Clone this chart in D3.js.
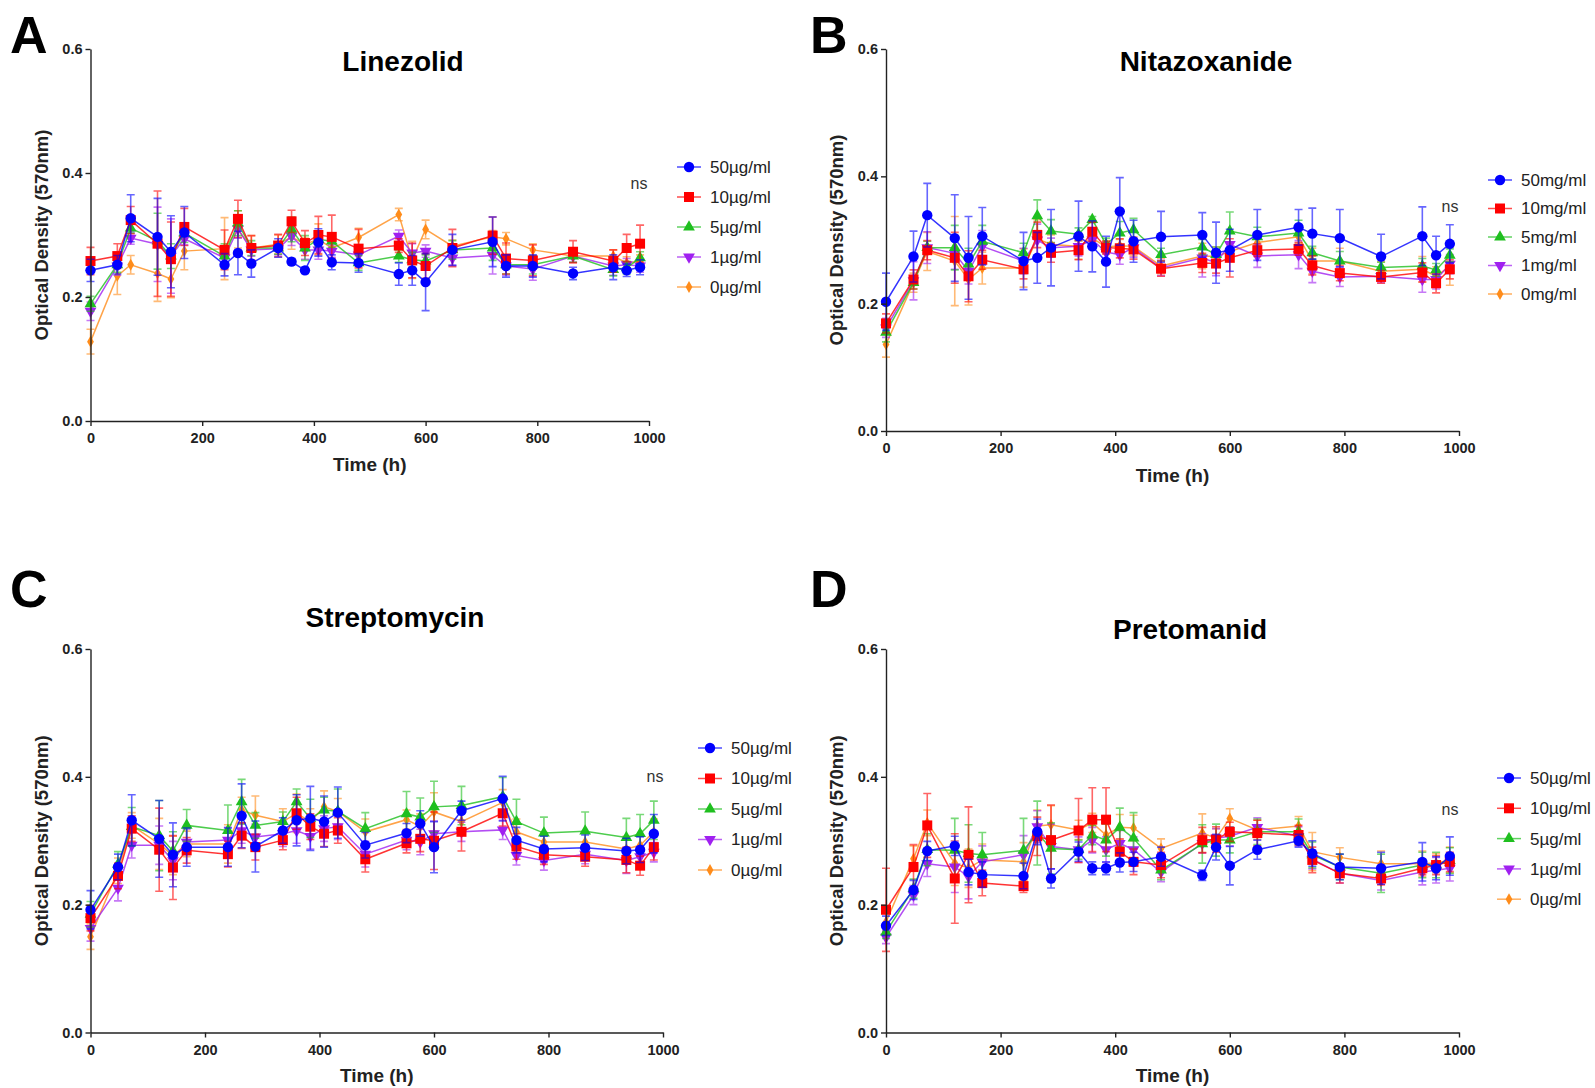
<!DOCTYPE html>
<html>
<head>
<meta charset="utf-8">
<script src="https://cdn.jsdelivr.net/npm/d3@7"></script>
<style>
	body { margin: 0; background: #fff; }
	svg { display: block; }
	.tick text { font-family: 'Liberation Sans', Arial, sans-serif; font-weight: bold; font-size: 14.5px; fill: #222; }
	.axis path, .axis line { stroke: #222; stroke-width: 1.4; }
</style>
</head>
<body>
<div id="chart"></div>
<script>
// sampling times (h)
const times = [0, 48, 72, 120, 144, 168, 240, 264, 288, 336, 360, 384, 408, 432, 480, 552, 576, 600, 648, 720, 744, 792, 864, 936, 960, 984];

const doses = ['50', '10', '5', '1', '0'];
const colors = ['#0000ff', '#ff0000', '#1fbf1f', '#a020f0', '#ff8c1a'];

// A - Linezolid
const linezolid50 = [0.243, 0.252, 0.327, 0.297, 0.273, 0.304, 0.252, 0.271, 0.254, 0.279, 0.257, 0.243, 0.288, 0.256, 0.255, 0.237, 0.243, 0.224, 0.276, 0.289, 0.250, 0.250, 0.238, 0.248, 0.243, 0.248];
const linezolid10 = [0.258, 0.266, 0.324, 0.286, 0.261, 0.313, 0.276, 0.326, 0.279, 0.283, 0.322, 0.287, 0.300, 0.297, 0.278, 0.283, 0.259, 0.250, 0.279, 0.299, 0.262, 0.259, 0.273, 0.258, 0.279, 0.286];
const linezolid5 = [0.189, 0.252, 0.311, 0.290, 0.266, 0.303, 0.266, 0.319, 0.279, 0.279, 0.309, 0.279, 0.293, 0.290, 0.255, 0.266, 0.260, 0.258, 0.276, 0.279, 0.252, 0.252, 0.266, 0.244, 0.247, 0.263];
const linezolid1 = [0.177, 0.250, 0.295, 0.285, 0.266, 0.294, 0.263, 0.310, 0.276, 0.278, 0.298, 0.276, 0.276, 0.274, 0.268, 0.298, 0.271, 0.274, 0.263, 0.267, 0.250, 0.245, 0.266, 0.250, 0.252, 0.250];
const linezolid0 = [0.128, 0.234, 0.252, 0.238, 0.229, 0.274, 0.278, 0.309, 0.279, 0.285, 0.297, 0.285, 0.293, 0.279, 0.296, 0.333, 0.260, 0.309, 0.282, 0.297, 0.294, 0.276, 0.266, 0.266, 0.255, 0.258];
const linezolid50Err = [0.018, 0.015, 0.038, 0.062, 0.058, 0.042, 0.018, 0.035, 0.022, 0.015, 0.005, 0.005, 0.022, 0.012, 0.015, 0.018, 0.024, 0.046, 0.025, 0.040, 0.018, 0.018, 0.010, 0.020, 0.010, 0.012];
const linezolid10Err = [0.022, 0.020, 0.022, 0.085, 0.060, 0.030, 0.032, 0.030, 0.020, 0.018, 0.018, 0.020, 0.030, 0.035, 0.031, 0.011, 0.028, 0.020, 0.030, 0.030, 0.025, 0.025, 0.018, 0.018, 0.022, 0.030];
const linezolid5Err = [0.012, 0.012, 0.008, 0.045, 0.020, 0.015, 0.020, 0.020, 0.012, 0.010, 0.020, 0.020, 0.012, 0.010, 0.012, 0.010, 0.012, 0.010, 0.015, 0.020, 0.015, 0.015, 0.010, 0.010, 0.010, 0.010];
const linezolid1Err = [0.015, 0.015, 0.010, 0.060, 0.060, 0.010, 0.015, 0.015, 0.010, 0.010, 0.015, 0.015, 0.015, 0.010, 0.010, 0.010, 0.015, 0.010, 0.012, 0.030, 0.015, 0.018, 0.010, 0.015, 0.010, 0.010];
const linezolid0Err = [0.020, 0.030, 0.015, 0.045, 0.030, 0.030, 0.050, 0.030, 0.020, 0.015, 0.020, 0.010, 0.025, 0.020, 0.015, 0.010, 0.030, 0.015, 0.010, 0.010, 0.010, 0.010, 0.010, 0.010, 0.010, 0.010];

// B - Nitazoxanide
const nitazoxanide50 = [0.203, 0.274, 0.339, 0.303, 0.272, 0.306, 0.267, 0.272, 0.288, 0.306, 0.290, 0.266, 0.345, 0.298, 0.305, 0.308, 0.280, 0.284, 0.308, 0.320, 0.310, 0.303, 0.274, 0.306, 0.276, 0.294];
const nitazoxanide10 = [0.169, 0.238, 0.284, 0.272, 0.243, 0.269, 0.254, 0.308, 0.280, 0.284, 0.313, 0.288, 0.287, 0.285, 0.255, 0.264, 0.263, 0.272, 0.284, 0.286, 0.260, 0.248, 0.242, 0.249, 0.232, 0.254];
const nitazoxanide5 = [0.155, 0.233, 0.288, 0.288, 0.262, 0.298, 0.280, 0.338, 0.314, 0.309, 0.332, 0.293, 0.311, 0.316, 0.277, 0.289, 0.277, 0.314, 0.305, 0.311, 0.280, 0.267, 0.257, 0.259, 0.253, 0.276];
const nitazoxanide1 = [0.162, 0.236, 0.288, 0.279, 0.251, 0.290, 0.267, 0.300, 0.288, 0.290, 0.300, 0.281, 0.277, 0.288, 0.256, 0.272, 0.264, 0.293, 0.275, 0.277, 0.251, 0.242, 0.243, 0.238, 0.238, 0.262];
const nitazoxanide0 = [0.136, 0.233, 0.282, 0.267, 0.238, 0.256, 0.256, 0.302, 0.293, 0.290, 0.303, 0.289, 0.291, 0.290, 0.259, 0.275, 0.274, 0.282, 0.296, 0.305, 0.267, 0.267, 0.251, 0.254, 0.243, 0.259];
const nitazoxanide50Err = [0.045, 0.040, 0.050, 0.068, 0.065, 0.045, 0.045, 0.040, 0.060, 0.055, 0.040, 0.040, 0.053, 0.033, 0.040, 0.035, 0.048, 0.033, 0.040, 0.028, 0.040, 0.045, 0.035, 0.046, 0.030, 0.030];
const nitazoxanide10Err = [0.015, 0.015, 0.015, 0.040, 0.040, 0.015, 0.015, 0.020, 0.015, 0.015, 0.015, 0.010, 0.015, 0.015, 0.012, 0.015, 0.015, 0.030, 0.010, 0.010, 0.015, 0.012, 0.010, 0.015, 0.015, 0.015];
const nitazoxanide5Err = [0.015, 0.010, 0.010, 0.035, 0.025, 0.025, 0.015, 0.025, 0.018, 0.010, 0.005, 0.010, 0.018, 0.018, 0.010, 0.012, 0.012, 0.030, 0.015, 0.020, 0.010, 0.015, 0.008, 0.012, 0.010, 0.010];
const nitazoxanide1Err = [0.015, 0.030, 0.025, 0.025, 0.020, 0.025, 0.020, 0.025, 0.015, 0.015, 0.015, 0.015, 0.015, 0.015, 0.012, 0.030, 0.020, 0.020, 0.018, 0.022, 0.018, 0.015, 0.010, 0.020, 0.015, 0.015];
const nitazoxanide0Err = [0.020, 0.015, 0.030, 0.070, 0.040, 0.025, 0.030, 0.030, 0.015, 0.020, 0.010, 0.010, 0.010, 0.015, 0.012, 0.020, 0.015, 0.015, 0.010, 0.010, 0.020, 0.020, 0.015, 0.020, 0.015, 0.030];

// C - Streptomycin
const streptomycin50 = [0.192, 0.259, 0.332, 0.303, 0.278, 0.290, 0.290, 0.339, 0.291, 0.316, 0.332, 0.335, 0.330, 0.344, 0.293, 0.312, 0.327, 0.290, 0.347, 0.366, 0.301, 0.287, 0.289, 0.284, 0.286, 0.311];
const streptomycin10 = [0.179, 0.245, 0.319, 0.286, 0.258, 0.285, 0.279, 0.308, 0.290, 0.301, 0.343, 0.322, 0.311, 0.316, 0.271, 0.296, 0.303, 0.300, 0.314, 0.343, 0.291, 0.278, 0.275, 0.270, 0.261, 0.290];
const streptomycin5 = [0.185, 0.263, 0.322, 0.308, 0.284, 0.324, 0.316, 0.361, 0.324, 0.330, 0.361, 0.335, 0.348, 0.346, 0.319, 0.342, 0.337, 0.353, 0.355, 0.369, 0.330, 0.312, 0.315, 0.305, 0.311, 0.332];
const streptomycin1 = [0.163, 0.226, 0.293, 0.293, 0.269, 0.298, 0.301, 0.316, 0.306, 0.311, 0.316, 0.307, 0.319, 0.322, 0.279, 0.301, 0.298, 0.311, 0.314, 0.317, 0.277, 0.269, 0.279, 0.269, 0.275, 0.282];
const streptomycin0 = [0.150, 0.253, 0.324, 0.295, 0.277, 0.295, 0.295, 0.348, 0.340, 0.330, 0.343, 0.330, 0.353, 0.346, 0.314, 0.333, 0.322, 0.345, 0.330, 0.360, 0.314, 0.298, 0.298, 0.287, 0.293, 0.314];
const streptomycin50Err = [0.030, 0.020, 0.040, 0.060, 0.050, 0.030, 0.030, 0.050, 0.040, 0.020, 0.040, 0.050, 0.040, 0.040, 0.020, 0.015, 0.020, 0.040, 0.015, 0.035, 0.020, 0.020, 0.020, 0.020, 0.020, 0.030];
const streptomycin10Err = [0.020, 0.020, 0.020, 0.065, 0.050, 0.020, 0.020, 0.020, 0.020, 0.015, 0.025, 0.020, 0.020, 0.020, 0.020, 0.015, 0.020, 0.045, 0.030, 0.020, 0.020, 0.015, 0.015, 0.020, 0.015, 0.020];
const streptomycin5Err = [0.020, 0.020, 0.030, 0.055, 0.030, 0.025, 0.040, 0.035, 0.020, 0.015, 0.020, 0.030, 0.020, 0.035, 0.025, 0.035, 0.030, 0.040, 0.030, 0.030, 0.035, 0.025, 0.030, 0.030, 0.030, 0.030];
const streptomycin1Err = [0.020, 0.020, 0.020, 0.030, 0.030, 0.020, 0.020, 0.020, 0.020, 0.020, 0.020, 0.020, 0.020, 0.020, 0.020, 0.015, 0.020, 0.020, 0.015, 0.015, 0.015, 0.015, 0.015, 0.020, 0.015, 0.015];
const streptomycin0Err = [0.020, 0.020, 0.020, 0.040, 0.030, 0.020, 0.030, 0.020, 0.030, 0.020, 0.030, 0.020, 0.025, 0.020, 0.020, 0.015, 0.020, 0.030, 0.020, 0.020, 0.020, 0.015, 0.015, 0.020, 0.015, 0.020];

// D - Pretomanid
const pretomanid50 = [0.167, 0.223, 0.284, 0.292, 0.251, 0.247, 0.245, 0.314, 0.241, 0.283, 0.257, 0.257, 0.266, 0.267, 0.275, 0.246, 0.290, 0.261, 0.286, 0.300, 0.280, 0.259, 0.257, 0.267, 0.257, 0.276];
const pretomanid10 = [0.192, 0.259, 0.324, 0.241, 0.278, 0.234, 0.229, 0.307, 0.301, 0.316, 0.333, 0.333, 0.283, 0.267, 0.262, 0.301, 0.302, 0.314, 0.312, 0.309, 0.270, 0.249, 0.241, 0.257, 0.262, 0.267];
const pretomanid5 = [0.157, 0.225, 0.286, 0.285, 0.280, 0.278, 0.285, 0.312, 0.288, 0.286, 0.309, 0.301, 0.321, 0.304, 0.254, 0.295, 0.301, 0.301, 0.314, 0.314, 0.278, 0.259, 0.249, 0.262, 0.262, 0.269];
const pretomanid1 = [0.149, 0.215, 0.264, 0.259, 0.244, 0.267, 0.278, 0.322, 0.291, 0.286, 0.301, 0.286, 0.296, 0.286, 0.251, 0.296, 0.304, 0.307, 0.321, 0.307, 0.271, 0.249, 0.238, 0.251, 0.254, 0.257];
const pretomanid0 = [0.173, 0.272, 0.328, 0.265, 0.257, 0.270, 0.267, 0.323, 0.325, 0.317, 0.328, 0.309, 0.321, 0.320, 0.288, 0.312, 0.304, 0.335, 0.317, 0.323, 0.283, 0.274, 0.264, 0.264, 0.265, 0.270];
const pretomanid50Err = [0.015, 0.015, 0.015, 0.015, 0.020, 0.020, 0.020, 0.020, 0.015, 0.015, 0.010, 0.010, 0.015, 0.015, 0.015, 0.008, 0.020, 0.030, 0.015, 0.010, 0.020, 0.020, 0.025, 0.030, 0.018, 0.030];
const pretomanid10Err = [0.065, 0.035, 0.050, 0.070, 0.075, 0.020, 0.010, 0.030, 0.055, 0.050, 0.050, 0.050, 0.020, 0.020, 0.020, 0.020, 0.020, 0.015, 0.020, 0.015, 0.020, 0.015, 0.010, 0.010, 0.015, 0.015];
const pretomanid5Err = [0.010, 0.015, 0.025, 0.050, 0.045, 0.035, 0.050, 0.050, 0.040, 0.015, 0.015, 0.025, 0.030, 0.040, 0.015, 0.030, 0.025, 0.020, 0.020, 0.020, 0.020, 0.020, 0.030, 0.020, 0.020, 0.020];
const pretomanid1Err = [0.010, 0.015, 0.020, 0.040, 0.035, 0.025, 0.030, 0.025, 0.035, 0.020, 0.020, 0.020, 0.020, 0.020, 0.015, 0.015, 0.015, 0.015, 0.015, 0.015, 0.015, 0.015, 0.015, 0.020, 0.020, 0.020];
const pretomanid0Err = [0.015, 0.020, 0.020, 0.035, 0.030, 0.025, 0.030, 0.025, 0.030, 0.015, 0.015, 0.020, 0.020, 0.020, 0.015, 0.030, 0.015, 0.015, 0.015, 0.015, 0.030, 0.015, 0.020, 0.020, 0.015, 0.020];

const yTicks = [0, 0.2, 0.4, 0.6];
const xTicks = [0, 200, 400, 600, 800, 1000];

const panels = [
	{
		letter: 'A', title: 'Linezolid', unit: 'µg/ml',
		left: 90.5, right: 649, top: 49, bottom: 421,
		titleX: 403, titleY: 71, letterX: 10, letterY: 53,
		legendX: 677, legendY: 167, legendStep: 30, nsX: 639, nsY: 189,
		yLabelX: 48, timeY: 471,
		means: [linezolid50, linezolid10, linezolid5, linezolid1, linezolid0],
		errs: [linezolid50Err, linezolid10Err, linezolid5Err, linezolid1Err, linezolid0Err],
	},
	{
		letter: 'B', title: 'Nitazoxanide', unit: 'mg/ml',
		left: 886, right: 1459, top: 49, bottom: 431,
		titleX: 1206, titleY: 71, letterX: 810, letterY: 53,
		legendX: 1488, legendY: 180, legendStep: 28.5, nsX: 1450, nsY: 212,
		yLabelX: 843, timeY: 482,
		means: [nitazoxanide50, nitazoxanide10, nitazoxanide5, nitazoxanide1, nitazoxanide0],
		errs: [nitazoxanide50Err, nitazoxanide10Err, nitazoxanide5Err, nitazoxanide1Err, nitazoxanide0Err],
	},
	{
		letter: 'C', title: 'Streptomycin', unit: 'µg/ml',
		left: 90.5, right: 663, top: 649, bottom: 1032.5,
		titleX: 395, titleY: 627, letterX: 10, letterY: 607,
		legendX: 698, legendY: 748, legendStep: 30.5, nsX: 655, nsY: 782,
		yLabelX: 48, timeY: 1082,
		means: [streptomycin50, streptomycin10, streptomycin5, streptomycin1, streptomycin0],
		errs: [streptomycin50Err, streptomycin10Err, streptomycin5Err, streptomycin1Err, streptomycin0Err],
	},
	{
		letter: 'D', title: 'Pretomanid', unit: 'µg/ml',
		left: 886, right: 1459, top: 649, bottom: 1032.5,
		titleX: 1190, titleY: 639, letterX: 810, letterY: 607,
		legendX: 1497, legendY: 778, legendStep: 30.3, nsX: 1450, nsY: 815,
		yLabelX: 843, timeY: 1082,
		means: [pretomanid50, pretomanid10, pretomanid5, pretomanid1, pretomanid0],
		errs: [pretomanid50Err, pretomanid10Err, pretomanid5Err, pretomanid1Err, pretomanid0Err],
	},
];

const symbols = [
	d3.symbol().type(d3.symbolCircle).size(85),
	d3.symbol().type(d3.symbolSquare).size(100),
	d3.symbol().type(d3.symbolTriangle).size(60),
	d3.symbol().type(d3.symbolTriangle).size(60),
	d3.symbol().type(d3.symbolDiamond).size(40),
];
const symbolRotate = [0, 0, 0, 180, 0];

const svg = d3.select('#chart').append('svg')
	.attr('width', 1595)
	.attr('height', 1088)
	.attr('viewBox', '0 0 1595 1088');

function drawPanel(p) {
	const g = svg.append('g');

	const xScale = d3.scaleLinear().domain([0, 1000]).range([p.left, p.right]);
	const yScale = d3.scaleLinear().domain([0, 0.6]).range([p.bottom, p.top]);

	// draw series back to front so that 50 sits on top
	for (let s = doses.length - 1; s >= 0; s--) {
		const pts = times.map((t, i) => ({ t, v: p.means[s][i], e: p.errs[s][i] }));
		const sg = g.append('g');

		sg.selectAll('.err')
			.data(pts)
			.join('path')
			.attr('d', (d) => {
				const x = xScale(d.t), y0 = yScale(d.v - d.e), y1 = yScale(d.v + d.e);
				return `M${x},${y0}V${y1}M${x - 4},${y1}H${x + 4}M${x - 4},${y0}H${x + 4}`;
			})
			.attr('fill', 'none')
			.attr('stroke', colors[s])
			.attr('stroke-opacity', 0.6)
			.attr('stroke-width', 1.6);

		const line = d3.line()
			.x((d) => xScale(d.t))
			.y((d) => yScale(d.v));
		sg.append('path')
			.datum(pts)
			.attr('d', line)
			.attr('fill', 'none')
			.attr('stroke', colors[s])
			.attr('stroke-opacity', 0.8)
			.attr('stroke-width', 1.5);

		sg.selectAll('.pt')
			.data(pts)
			.join('path')
			.attr('d', symbols[s])
			.attr('transform', (d) => `translate(${xScale(d.t)},${yScale(d.v)}) rotate(${symbolRotate[s]})`)
			.attr('fill', colors[s]);
	}

	// axes
	g.append('g')
		.attr('class', 'axis')
		.attr('transform', `translate(${p.left},0)`)
		.call(d3.axisLeft(yScale).tickValues(yTicks).tickFormat(d3.format('.1f')).tickSize(5).tickPadding(3).tickSizeOuter(0));
	g.append('g')
		.attr('class', 'axis')
		.attr('transform', `translate(0,${p.bottom})`)
		.call(d3.axisBottom(xScale).tickValues(xTicks).tickFormat(d3.format('d')).tickSize(5).tickPadding(7).tickSizeOuter(0));

	// texts
	g.append('text')
		.attr('x', p.letterX)
		.attr('y', p.letterY)
		.attr('font-family', 'Liberation Sans, Arial, sans-serif')
		.attr('font-weight', 'bold')
		.attr('font-size', 52)
		.text(p.letter);

	g.append('text')
		.attr('x', p.titleX)
		.attr('y', p.titleY)
		.attr('text-anchor', 'middle')
		.attr('font-family', 'Liberation Sans, Arial, sans-serif')
		.attr('font-weight', 'bold')
		.attr('font-size', 28)
		.text(p.title);

	g.append('text')
		.attr('transform', `translate(${p.yLabelX},${(p.top + p.bottom) / 2}) rotate(-90)`)
		.attr('text-anchor', 'middle')
		.attr('font-family', 'Liberation Sans, Arial, sans-serif')
		.attr('font-weight', 'bold')
		.attr('font-size', 18.5)
		.attr('fill', '#222')
		.text('Optical Density (570nm)');

	g.append('text')
		.attr('x', xScale(500))
		.attr('y', p.timeY)
		.attr('text-anchor', 'middle')
		.attr('font-family', 'Liberation Sans, Arial, sans-serif')
		.attr('font-weight', 'bold')
		.attr('font-size', 19)
		.attr('fill', '#222')
		.text('Time (h)');

	g.append('text')
		.attr('x', p.nsX)
		.attr('y', p.nsY)
		.attr('text-anchor', 'middle')
		.attr('font-family', 'Liberation Sans, Arial, sans-serif')
		.attr('font-size', 16)
		.attr('fill', '#333')
		.text('ns');

	// legend
	const leg = g.append('g').attr('transform', `translate(${p.legendX},${p.legendY})`);
	doses.forEach((d, s) => {
		const row = leg.append('g').attr('transform', `translate(0,${s * p.legendStep})`);
		row.append('line')
			.attr('x1', 0).attr('x2', 24)
			.attr('stroke', colors[s])
			.attr('stroke-opacity', 0.7)
			.attr('stroke-width', 1.5);
		row.append('path')
			.attr('d', symbols[s])
			.attr('transform', `translate(12,0) rotate(${symbolRotate[s]})`)
			.attr('fill', colors[s]);
		row.append('text')
			.attr('x', 33)
			.attr('dy', '0.35em')
			.attr('font-family', 'Liberation Sans, Arial, sans-serif')
			.attr('font-size', 17)
			.attr('fill', '#222')
			.text(d + p.unit);
	});
}

panels.forEach(drawPanel);
</script>
</body>
</html>
